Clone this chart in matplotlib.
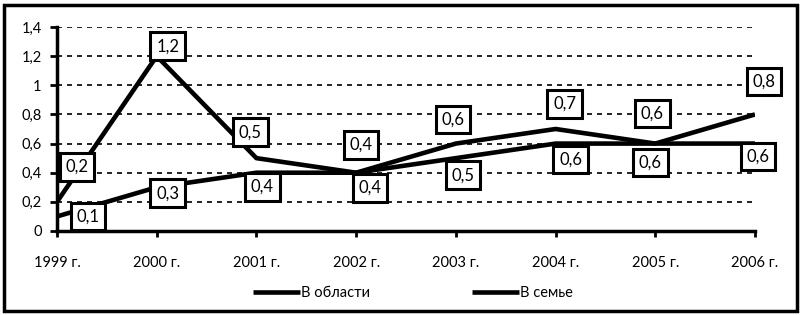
import matplotlib
matplotlib.use("Agg")
import matplotlib.pyplot as plt
from matplotlib.patches import Rectangle

years = ["1999 г.", "2000 г.", "2001 г.", "2002 г.", "2003 г.", "2004 г.", "2005 г.", "2006 г."]
oblast = [0.1, 0.3, 0.4, 0.4, 0.5, 0.6, 0.6, 0.6]
semya = [0.2, 1.2, 0.5, 0.4, 0.6, 0.7, 0.6, 0.8]
yticks = [0, 0.2, 0.4, 0.6, 0.8, 1.0, 1.2, 1.4]
ytick_labels = ["0", "0,2", "0,4", "0,6", "0,8", "1", "1,2", "1,4"]

# label offsets in pixels (dx right, dy up)
off_oblast = [(31, 0), (11, -6), (6, -14), (14, -15), (7, -17), (15, -16), (-5, -19), (3, -13)]
off_semya = [(20, 35), (11, 10), (-6, 26), (5, 28), (-3, 24), (9, 25), (-3, 30), (9, 33)]

plt.rcParams['font.family'] = ['Lato', 'DejaVu Sans']

fig = plt.figure(figsize=(8.03, 3.15), dpi=100)
ax = fig.add_axes([57/803, 1-231/315, (755-57)/803, (231-27)/315])

x = list(range(len(years)))
ax.plot(x, oblast, color='black', lw=3.3, solid_capstyle='butt', label='В области', zorder=3)
ax.plot(x, semya, color='black', lw=3.3, solid_capstyle='butt', label='В семье', zorder=3)

ax.set_xlim(0, len(years) - 1)
ax.set_ylim(0, 1.4)
ax.set_yticks(yticks)
ax.set_yticklabels(ytick_labels, fontsize=10.5)
ax.set_xticks(x)
ax.set_xticklabels(years, fontsize=10.5)
ax.tick_params(axis='y', length=5, width=2, pad=6)
ax.tick_params(axis='x', length=4, width=2, pad=14)
for v in yticks[1:]:
    ax.axhline(v, color='black', lw=1.2, ls=(0, (3, 3)), zorder=1)
for s in ['top', 'right']:
    ax.spines[s].set_visible(False)
for s in ['left', 'bottom']:
    ax.spines[s].set_linewidth(2.5)

bbox = dict(boxstyle='square,pad=0.35', fc='white', ec='black', lw=2.2)
for xi, v, (dx, dy) in zip(x, oblast, off_oblast):
    ax.annotate(f"{v:.1f}".replace('.', ','), (xi, v), xytext=(dx, dy), textcoords='offset pixels',
                ha='center', va='center', fontsize=12, bbox=bbox, zorder=5, annotation_clip=False)
for xi, v, (dx, dy) in zip(x, semya, off_semya):
    ax.annotate(f"{v:.1f}".replace('.', ','), (xi, v), xytext=(dx, dy), textcoords='offset pixels',
                ha='center', va='center', fontsize=12, bbox=bbox, zorder=5, annotation_clip=False)

fig.legend(loc='center', bbox_to_anchor=(413/803, 1-293/315), ncol=2, frameon=False,
           fontsize=10.5, handlelength=3.2, handletextpad=0.1, columnspacing=7.0)

fig.patches.append(Rectangle((4/803, 4/315), 793/803, 306/315, transform=fig.transFigure,
                             fill=False, ec='black', lw=2.5))

fig.savefig("out.png", dpi=100)
